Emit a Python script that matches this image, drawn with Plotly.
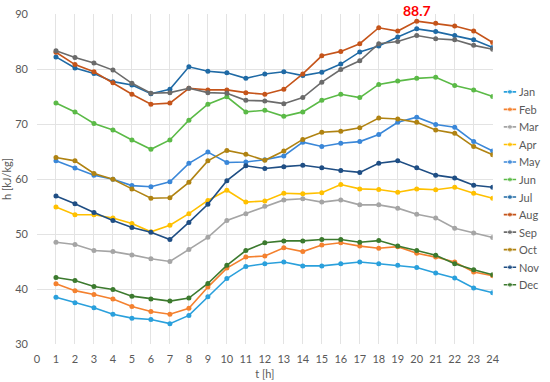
import plotly.graph_objects as go

hours = list(range(1, 25))
months = ["Jan", "Feb", "Mar", "Apr", "May", "Jun", "Jul", "Aug", "Sep", "Oct", "Nov", "Dec"]

jan = [38.5, 37.5, 36.6, 35.4, 34.7, 34.45, 33.7, 35.2, 38.6, 41.9, 44.1, 44.6, 44.9, 44.2, 44.2, 44.6, 44.9, 44.6, 44.3, 43.9, 42.9, 42.0, 40.2, 39.3]
feb = [40.95, 39.7, 39.0, 38.2, 36.8, 35.9, 35.4, 36.5, 40.35, 43.8, 45.8, 46.0, 47.5, 46.8, 48.0, 48.4, 47.8, 47.4, 47.7, 46.5, 45.8, 44.9, 43.1, 42.4]
mar = [48.5, 48.1, 47.0, 46.8, 46.2, 45.5, 45.0, 47.2, 49.4, 52.45, 53.7, 55.05, 56.2, 56.4, 55.8, 56.2, 55.3, 55.3, 54.7, 53.6, 52.9, 51.05, 50.2, 49.35]
apr = [54.9, 53.5, 53.5, 52.9, 51.9, 50.4, 51.6, 53.7, 56.1, 57.95, 55.8, 56.0, 57.4, 57.3, 57.5, 59.0, 58.2, 58.1, 57.6, 58.2, 58.05, 58.5, 57.4, 56.5]
may = [63.3, 62.0, 60.7, 59.95, 58.8, 58.6, 59.5, 62.85, 64.9, 63.0, 63.1, 63.5, 64.2, 66.7, 65.9, 66.5, 66.8, 68.1, 70.3, 71.25, 69.9, 69.4, 66.8, 65.1]
jun = [73.8, 72.2, 70.1, 68.9, 67.1, 65.4, 67.1, 70.7, 73.6, 74.95, 72.2, 72.5, 71.4, 72.2, 74.3, 75.4, 74.8, 77.2, 77.8, 78.3, 78.5, 77.0, 76.2, 75.0]
jul = [82.2, 80.2, 79.2, 77.7, 77.1, 75.5, 76.3, 80.4, 79.6, 79.3, 78.3, 79.1, 79.5, 78.8, 79.4, 80.9, 83.1, 84.2, 85.8, 87.3, 86.8, 86.1, 85.3, 83.9]
aug = [83.05, 80.8, 79.5, 77.5, 75.4, 73.6, 73.8, 76.5, 76.2, 76.2, 75.7, 75.4, 76.3, 79.1, 82.4, 83.2, 84.6, 87.5, 86.9, 88.7, 88.3, 87.8, 86.9, 84.8]
sep = [83.3, 82.1, 81.1, 79.8, 77.4, 75.6, 75.7, 76.5, 75.7, 75.6, 74.3, 74.2, 73.7, 74.8, 77.6, 79.9, 81.5, 84.6, 85.0, 86.1, 85.5, 85.3, 84.3, 83.6]
oct_ = [63.9, 63.3, 61.0, 59.95, 58.2, 56.5, 56.6, 59.4, 63.3, 65.2, 64.5, 63.4, 65.1, 67.2, 68.5, 68.7, 69.3, 71.1, 70.9, 70.3, 68.9, 68.3, 65.9, 64.4]
nov = [56.9, 55.5, 53.9, 52.45, 51.2, 50.3, 49.0, 52.1, 55.4, 59.7, 62.4, 61.9, 62.25, 62.5, 62.05, 61.55, 61.2, 62.85, 63.3, 62.05, 60.7, 60.2, 58.85, 58.5]
dec = [42.1, 41.55, 40.45, 39.9, 38.7, 38.2, 37.8, 38.35, 41.0, 44.3, 47.0, 48.4, 48.75, 48.75, 49.0, 49.0, 48.5, 48.8, 47.8, 47.0, 46.15, 44.6, 43.5, 42.6]

series = [jan, feb, mar, apr, may, jun, jul, aug, sep, oct_, nov, dec]
colors = ["#2AA0DC", "#F4812F", "#A5A5A5", "#FFC000", "#3A87D8", "#5BBA47",
          "#1F6AA5", "#C5541A", "#6B6B6B", "#B08312", "#1F4E84", "#3C7A2E"]

peak_label = "88.7"
peak_hour = 20

FONT = "Lato, 'Liberation Sans', sans-serif"
TXT = "#595959"

fig = go.Figure()
for name, vals, col in zip(months, series, colors):
    fig.add_trace(go.Scatter(
        x=hours, y=vals, name=name, mode="lines+markers",
        line=dict(color=col, width=1.6),
        marker=dict(color=col, size=5),
        showlegend=False, xaxis="x", yaxis="y"))

# custom legend drawn on a small side axis
for i, (name, col) in enumerate(zip(months, colors)):
    fig.add_trace(go.Scatter(
        x=[0, 0.5, 1], y=[i, i, i], mode="lines+markers",
        line=dict(color=col, width=1.6),
        marker=dict(color=col, size=[0, 5, 0]),
        showlegend=False, hoverinfo="skip", xaxis="x2", yaxis="y2"))
    fig.add_annotation(x=1, y=i, xref="x2", yref="y2", text=name,
                       showarrow=False, xanchor="left", yanchor="middle",
                       xshift=1, font=dict(family=FONT, size=11, color=TXT))

fig.add_annotation(x=peak_hour, y=1, xref="x", yref="paper", text="<b>" + peak_label + "</b>",
                   showarrow=False, xanchor="center", yanchor="top", yshift=14,
                   font=dict(family=FONT, size=14, color="#FF0000"))

plot_w = 550 - 37 - 2
fig.update_layout(
    width=550, height=382,
    margin=dict(l=37, r=2, t=14, b=38),
    paper_bgcolor="white", plot_bgcolor="white",
    font=dict(family=FONT, size=11, color=TXT),
    showlegend=False,
    xaxis=dict(domain=[0, (499 - 37) / plot_w], range=[0, 24], dtick=1, tick0=0,
               showgrid=True, gridcolor="#E3E3E3", gridwidth=1, zeroline=False,
               showline=False, ticks="", ticklabelstandoff=7,
               title=dict(text="t [h]", standoff=6, font=dict(size=11, color=TXT)),
               tickfont=dict(size=11, color=TXT)),
    yaxis=dict(range=[30, 90], dtick=10, showgrid=True, gridcolor="#E3E3E3",
               zeroline=False, showline=False, ticks="", ticklabelstandoff=8,
               title=dict(text="h [kJ/kg]", standoff=4, font=dict(size=11, color=TXT)),
               tickfont=dict(size=11, color=TXT)),
    xaxis2=dict(domain=[(510 - 37) / plot_w, (523 - 37) / plot_w], range=[0, 1],
                visible=False, anchor="y2", fixedrange=True),
    yaxis2=dict(domain=[0, 1], range=[14.38, -4.44], visible=False,
                anchor="x2", fixedrange=True),
)

fig.write_html("out.html", config={"displayModeBar": False},
               post_script="document.body.style.margin='0';document.body.style.overflow='hidden';")
